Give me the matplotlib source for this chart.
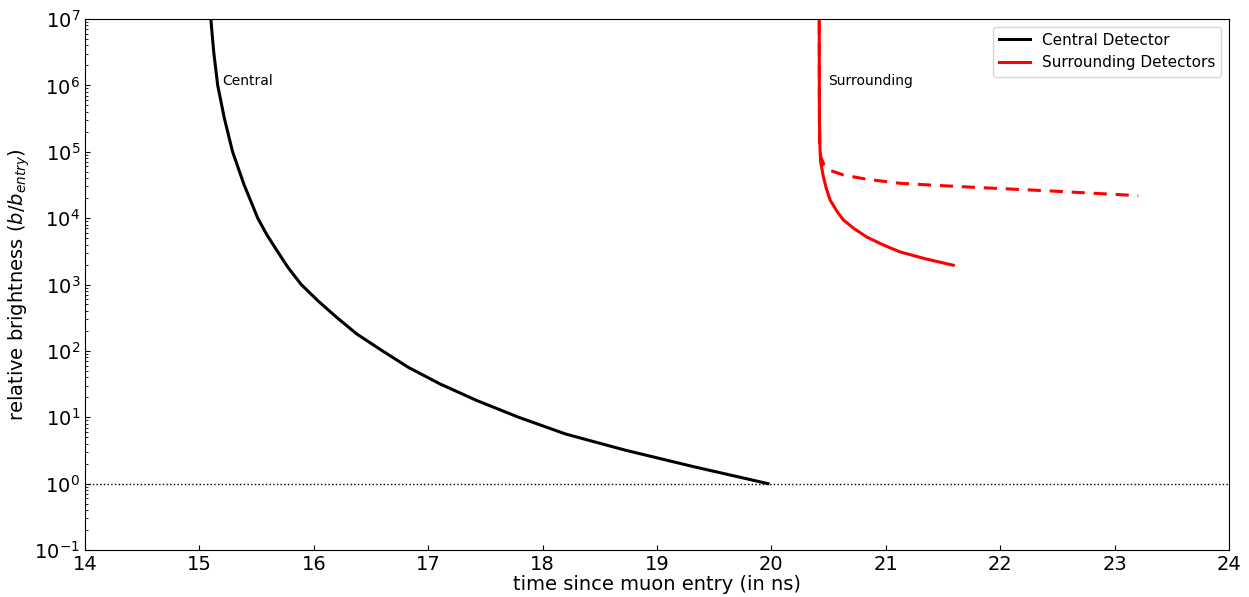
import numpy as np
import matplotlib
matplotlib.use("Agg")
import matplotlib.pyplot as plt

# central detector: time (ns) vs relative brightness
central_t = [15.100, 15.125, 15.160, 15.218, 15.290, 15.390, 15.510, 15.590, 15.680, 15.775,
             15.890, 16.040, 16.200, 16.375, 16.600, 16.830, 17.100, 17.420, 17.790, 18.200,
             18.720, 19.320, 19.970]
central_b = [1.0e7, 3.2e6, 1.0e6, 3.2e5, 1.0e5, 3.2e4, 1.0e4, 5.6e3, 3.2e3, 1.8e3,
             1.0e3, 5.6e2, 3.2e2, 1.8e2, 1.0e2, 56.0, 32.0, 18.0, 10.0, 5.6,
             3.2, 1.8, 1.0]

# surrounding detectors, solid
surr_t = [20.418, 20.419, 20.420, 20.425, 20.430, 20.454, 20.480, 20.513, 20.570, 20.629,
          20.720, 20.833, 20.970, 21.124, 21.350, 21.590]
surr_b = [2.0e7, 1.0e6, 3.0e5, 1.07e5, 7.1e4, 4.2e4, 2.8e4, 1.88e4, 1.29e4, 9.4e3,
          7.0e3, 5.2e3, 4.0e3, 3.1e3, 2.43e3, 1.95e3]

# surrounding detectors, dashed
surr2_t = [20.418, 20.419, 20.420, 20.422, 20.431, 20.460, 20.512, 20.629, 20.833, 21.124,
           21.415, 21.795, 22.435, 23.207]
surr2_b = [2.0e7, 1.0e6, 3.0e5, 1.26e5, 8.5e4, 6.3e4, 5.25e4, 4.47e4, 3.85e4, 3.35e4,
           3.13e4, 2.9e4, 2.57e4, 2.18e4]

fig = plt.figure(figsize=(12.49, 5.97), dpi=100)
ax = fig.add_axes([85/1249, 1-550/597, 1144/1249, 531/597])

ax.plot(central_t, central_b, color='black', lw=2.2, label='Central Detector')
ax.plot(surr_t, surr_b, color='red', lw=2.2, label='Surrounding Detectors')
ax.plot(surr2_t, surr2_b, color='red', lw=2.2, linestyle=(0, (4.3, 2.9)))
ax.axhline(1.0, color='black', lw=1, linestyle=':')

ax.text(15.2, 1e6, 'Central', fontsize=10)
ax.text(20.5, 1e6, 'Surrounding', fontsize=10)

ax.set_yscale('log')
ax.set_xlim(14, 24)
ax.set_ylim(1e-1, 1e7)
ax.set_xticks(np.arange(14, 25, 1))
ax.tick_params(which='both', direction='in', labelsize=14)
ax.set_xlabel('time since muon entry (in ns)', fontsize=14, labelpad=1)
ax.set_ylabel('relative brightness ($b/b_{entry}$)', fontsize=14, labelpad=2)
ax.legend(loc='upper right', fontsize=11)

fig.savefig('out.png', dpi=100)
